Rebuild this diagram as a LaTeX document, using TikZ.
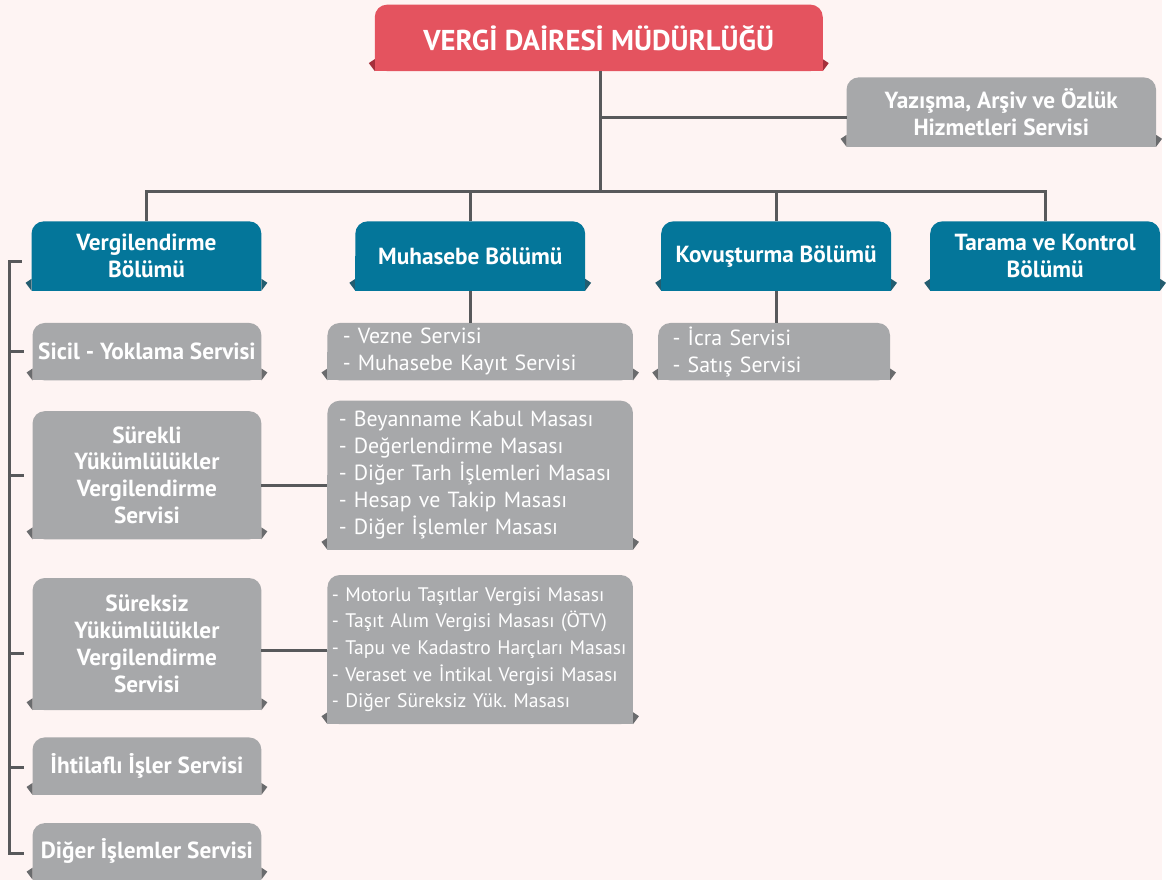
\documentclass[tikz,border=0pt]{standalone}
\usepackage{fontspec}
\setmainfont{PT Sans}
\usetikzlibrary{positioning,calc,backgrounds}

\definecolor{vdbg}{HTML}{FEF4F3}
\definecolor{vdred}{HTML}{E4535F}
\definecolor{vdredd}{HTML}{A52F3B}
\definecolor{vdblue}{HTML}{04769A}
\definecolor{vdblued}{HTML}{235D70}
\definecolor{vdgray}{HTML}{A7A8AA}
\definecolor{vdgrayd}{HTML}{6A6B6D}
\definecolor{vdline}{HTML}{58595B}

\tikzset{
  unit/.style={x=0.02cm,y=-0.02cm},
  head/.style={text=white, font=\bfseries\fontsize{13.3}{15.4}\selectfont, align=center, inner sep=0pt},
  item/.style={text=white, font=\fontsize{12.5}{15.4}\selectfont, align=left, inner ysep=0pt},
  wd/.style={minimum width=#1cm},
  ht/.style={minimum height=#1cm},
  link/.style={vdline, line width=1.7pt},
}

\begin{document}
\begin{tikzpicture}[unit]
% top
\node[head, wd=8.98, ht=1.32, font=\bfseries\fontsize{16.4}{20}\selectfont] (top) at (601,38) {VERGİ DAİRESİ MÜDÜRLÜĞÜ};
\node[head, wd=6.2, ht=1.38] (yaz) at (1005,112.5) {Yazışma, Arşiv ve Özlük\\Hizmetleri Servisi};

% departments
\node[head, wd=4.6, ht=1.38] (verg) at (147,257) {Vergilendirme\\Bölümü};
\node[head, wd=4.6, ht=1.38] (muh) at (472,257) {Muhasebe Bölümü};
\node[head, wd=4.6, ht=1.38] (kov) at (779,257) {Kovuşturma Bölümü};
\node[head, wd=4.6, ht=1.38] (tar) at (1049,257) {Tarama ve Kontrol\\Bölümü};

% services
\node[head, wd=4.58, ht=1.14] (sicil) at (147.5,353) {Sicil - Yoklama Servisi};
\node[item, inner xsep=0.3cm, text width=5.52cm, ht=1.14] (vezne) at (482,353) {- Vezne Servisi\\- Muhasebe Kayıt Servisi};
\node[item, inner xsep=0.28cm, text width=4.08cm, ht=1.14] (icra) at (777,353) {- İcra Servisi\\- Satış Servisi};
\node[head, wd=4.58, ht=2.56] (surekli) at (147.5,477) {Sürekli\\Yükümlülükler\\Vergilendirme\\Servisi};
\node[item, inner xsep=0.22cm, text width=5.68cm, ht=2.98] (beyan) at (482,477) {- Beyanname Kabul Masası\\- Değerlendirme Masası\\- Diğer Tarh İşlemleri Masası\\- Hesap ve Takip Masası\\- Diğer İşlemler Masası};
\node[head, wd=4.58, ht=2.64] (sureksiz) at (147.5,646.5) {Süreksiz\\Yükümlülükler\\Vergilendirme\\Servisi};
\node[item, inner xsep=0.08cm, text width=5.96cm, ht=2.98, font=\fontsize{11.2}{15.2}\selectfont] (motor) at (482,652) {- Motorlu Taşıtlar Vergisi Masası\\- Taşıt Alım Vergisi Masası (ÖTV)\\- Tapu ve Kadastro Harçları Masası\\- Veraset ve İntikal Vergisi Masası\\- Diğer Süreksiz Yük.\ Masası};
\node[head, wd=4.58, ht=1.14] (ihtil) at (147.5,769) {İhtilaflı İşler Servisi};
\node[head, wd=4.58, ht=1.12] (diger) at (147.5,854.5) {Diğer İşlemler Servisi};

% connectors
\coordinate (hub) at (603,192);
\coordinate (ytap) at (603,118);
\draw[link] (hub |- top.south) -- (hub);
\draw[link] (ytap) -- (ytap -| yaz.west);
\draw[link] (verg.north) |- (hub) -| (tar.north);
\draw[link] (muh.north) -- (muh.north |- hub);
\draw[link] (kov.north) -- (kov.north |- hub);
\draw[link] (muh.south) -- (muh.south |- vezne.north);
\draw[link] (kov.south) -- (kov.south |- icra.north);
\coordinate (s1) at ($(surekli.east)+(0,10)$);
\coordinate (s2) at ($(sureksiz.east)+(0,6)$);
\draw[link] (s1) -- (s1 -| beyan.west);
\draw[link] (s2) -- (s2 -| motor.west);

% left bracket
\coordinate (spine) at (10,0);
\coordinate (t0) at ($(verg.west)+(-10,5)$);
\coordinate (t5) at ($(diger.west)+(-9,2)$);
\draw[link] (t0) -| (spine |- t5) -- (t5);
\foreach \n/\dy in {sicil/0, surekli/0, sureksiz/9, ihtil/1}
  \draw[link] ($(\n.west)+(-23,\dy)$) -- ++(14,0);

% boxes
\begin{scope}[on background layer]
\fill[vdbg] (0,0) rectangle (1166,883);
\foreach \n/\c in {top/vdred, yaz/vdgray, verg/vdblue, muh/vdblue, kov/vdblue, tar/vdblue,
  sicil/vdgray, vezne/vdgray, icra/vdgray, surekli/vdgray, beyan/vdgray,
  sureksiz/vdgray, motor/vdgray, ihtil/vdgray, diger/vdgray}{
  \fill[\c d] (\n.south west) -- ++(-6,-8) -- ++(6,-4) -- cycle;
  \fill[\c d] (\n.south east) -- ++(6,-8) -- ++(-6,-4) -- cycle;
  \fill[\c, rounded corners=7pt] (\n.south west) rectangle (\n.north east);
  \fill[\c] (\n.south west) rectangle (\n.east);
}
\end{scope}
\end{tikzpicture}
\end{document}
